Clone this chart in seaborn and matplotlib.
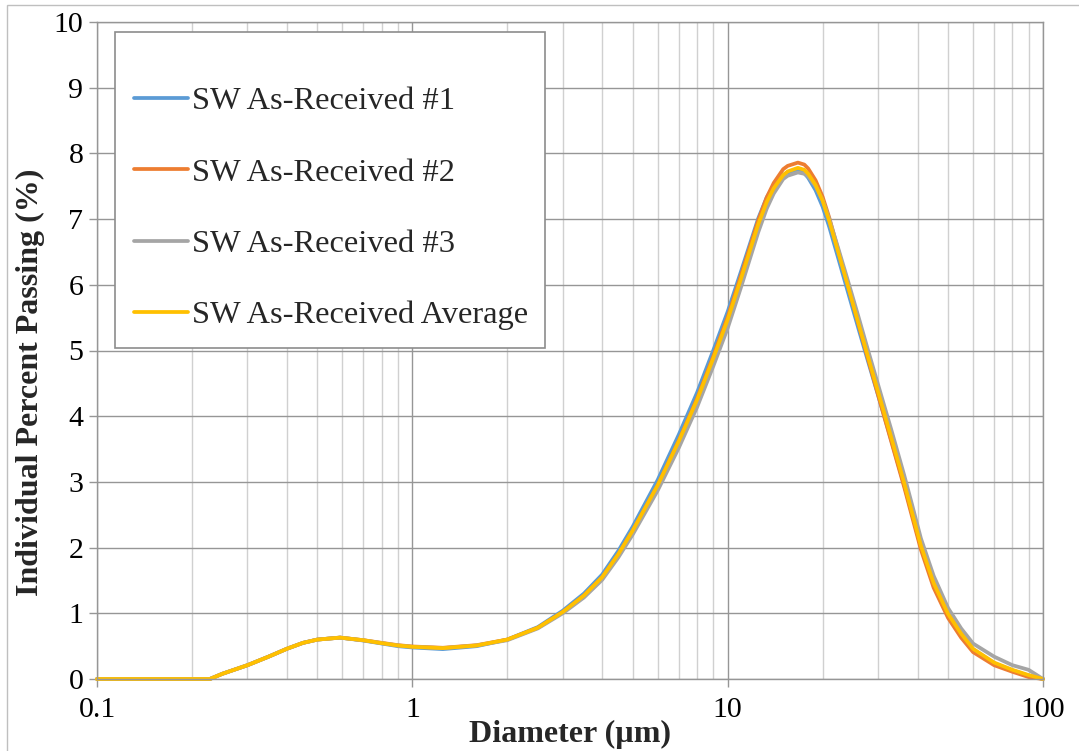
"""
Particle size distribution - SW as-received samples (individual % passing)
"""

import numpy as np
import matplotlib
matplotlib.use('Agg')
import matplotlib.pyplot as plt
from matplotlib.patches import Rectangle
from matplotlib.ticker import LogLocator, NullFormatter
import seaborn as sns

# diameter bins (um)
diameter = [0.1, 0.2, 0.228, 0.25, 0.3, 0.35, 0.4, 0.45, 0.5, 0.59,
            0.7, 0.8, 0.9, 1.0, 1.25, 1.6, 2.0, 2.5, 3.0, 3.5,
            4.0, 4.5, 5.0, 6.0, 7.0, 8.0, 9.0, 10.0, 11.0, 12.5,
            13.3, 14.0, 15.0, 15.5, 16.7, 17.5, 18.0, 19.0, 20.0, 21.0,
            22.5, 24.0, 26.0, 27.5, 30.5, 33.0, 36.3, 38.5, 41.0, 45.0,
            50.0, 55.0, 60.0, 70.0, 80.0, 90.0, 100.0]

sw_1 = [0, 0, 0, 0.08, 0.21, 0.34, 0.46, 0.55, 0.60, 0.63,
        0.585, 0.54, 0.50, 0.48, 0.455, 0.50, 0.60, 0.79, 1.04, 1.30,
        1.59, 1.95, 2.32, 3.03, 3.72, 4.36, 5.00, 5.59, 6.19, 7.01,
        7.33, 7.51, 7.67, 7.71, 7.74, 7.70, 7.63, 7.44, 7.19, 6.88,
        6.38, 5.91, 5.33, 4.93, 4.20, 3.64, 2.95, 2.50, 2.01, 1.44,
        0.98, 0.68, 0.45, 0.24, 0.13, 0.05, 0.0]

sw_2 = [0, 0, 0, 0.08, 0.21, 0.34, 0.46, 0.55, 0.60, 0.63,
        0.59, 0.55, 0.515, 0.495, 0.475, 0.515, 0.60, 0.78, 1.02, 1.27,
        1.55, 1.90, 2.26, 2.95, 3.63, 4.27, 4.91, 5.51, 6.13, 6.98,
        7.33, 7.55, 7.76, 7.81, 7.86, 7.83, 7.77, 7.59, 7.34, 7.02,
        6.50, 6.01, 5.40, 4.97, 4.20, 3.62, 2.92, 2.46, 1.97, 1.39,
        0.93, 0.63, 0.41, 0.21, 0.11, 0.03, 0.0]

sw_3 = [0, 0, 0, 0.08, 0.21, 0.34, 0.46, 0.55, 0.60, 0.63,
        0.59, 0.545, 0.51, 0.49, 0.47, 0.51, 0.59, 0.77, 1.00, 1.24,
        1.51, 1.85, 2.20, 2.87, 3.52, 4.14, 4.76, 5.34, 5.95, 6.80,
        7.16, 7.39, 7.61, 7.66, 7.71, 7.69, 7.65, 7.50, 7.29, 7.00,
        6.53, 6.08, 5.51, 5.10, 4.36, 3.80, 3.10, 2.64, 2.14, 1.57,
        1.08, 0.77, 0.54, 0.34, 0.21, 0.14, 0.0]

sw_avg = [0, 0, 0, 0.08, 0.21, 0.34, 0.46, 0.55, 0.60, 0.63,
          0.59, 0.545, 0.51, 0.49, 0.47, 0.51, 0.60, 0.78, 1.02, 1.27,
          1.55, 1.90, 2.26, 2.95, 3.62, 4.25, 4.88, 5.47, 6.08, 6.92,
          7.26, 7.47, 7.67, 7.725, 7.78, 7.75, 7.69, 7.52, 7.28, 6.97,
          6.47, 6.00, 5.41, 5.00, 4.25, 3.68, 2.98, 2.52, 2.03, 1.46,
          0.99, 0.69, 0.46, 0.25, 0.14, 0.06, 0.0]

series_names = ['SW As-Received #1', 'SW As-Received #2',
                'SW As-Received #3', 'SW As-Received Average']
series_values = [sw_1, sw_2, sw_3, sw_avg]
series_colors = ['#5B9BD5', '#ED7D31', '#A5A5A5', '#FFC000']

x_ticks = [0.1, 1, 10, 100]
x_tick_labels = ['0.1', '1', '10', '100']
y_ticks = list(range(0, 11))

sns.set_theme(style='white')
plt.rcParams['font.family'] = ['Liberation Serif', 'DejaVu Serif']

W, H = 1079, 751
fig = plt.figure(figsize=(W / 100, H / 100), dpi=100)
ax = fig.add_axes([97 / W, 1 - 679 / H, 946 / W, 657 / H])

for name, vals, color in zip(series_names, series_values, series_colors):
    sns.lineplot(x=diameter, y=vals, ax=ax, color=color, lw=2.7,
                 label=name, sort=False, estimator=None)
for line in ax.lines:
    line.set_clip_on(False)
    line.set_solid_joinstyle('round')

ax.set_xscale('log')
ax.set_xlim(0.1, 100)
ax.set_ylim(0, 10)
ax.set_xticks(x_ticks)
ax.set_xticklabels(x_tick_labels)
ax.set_yticks(y_ticks)
ax.xaxis.set_minor_locator(LogLocator(base=10, subs=np.arange(2, 10)))
ax.xaxis.set_minor_formatter(NullFormatter())

grid_major = '#969696'
ax.set_axisbelow(True)
ax.grid(which='major', color=grid_major, lw=1.0)
ax.grid(which='minor', axis='x', color='#d0d0d0', lw=1.0)
for sp in ax.spines.values():
    sp.set_color(grid_major)
    sp.set_linewidth(1.0)

ax.tick_params(which='major', bottom=True, left=True, length=5.8, width=1,
               color=grid_major, labelsize=21.5, labelcolor='black')
ax.tick_params(axis='x', which='major', pad=7)
ax.tick_params(axis='y', which='major', pad=4)
ax.tick_params(which='minor', length=0)

ax.set_xlabel('Diameter (µm)', fontsize=23, fontweight='bold')
ax.xaxis.label.set_va('center')
ax.xaxis.set_label_coords(0.5, -0.085)
ax.set_ylabel('Individual Percent Passing (%)', fontsize=23, fontweight='bold')
ax.yaxis.label.set_va('center')
ax.yaxis.label.set_ha('center')
ax.yaxis.set_label_coords(-0.0708, 0.452)

# legend box drawn separately so the padding matches
ax.add_patch(Rectangle((0.019, 0.5038), 0.4546, 0.4812, transform=ax.transAxes,
                       facecolor='white', edgecolor='#8c8c8c', lw=1.2,
                       zorder=4, clip_on=False))
handles, labels = ax.get_legend_handles_labels()
ax.legend(handles, labels, loc='upper left', bbox_to_anchor=(0.0391, 0.9018),
          frameon=False, borderpad=0, borderaxespad=0, fontsize=23.4,
          handlelength=1.66, handletextpad=0.13, labelspacing=1.28)

# light outer chart border (left/top visible)
fig.add_artist(Rectangle((7 / W, -0.05), 1.1, 1.05 - 5 / H,
                         transform=fig.transFigure, facecolor='none',
                         edgecolor='#bfbfbf', lw=1.0))

fig.savefig('out.png', dpi=100)
